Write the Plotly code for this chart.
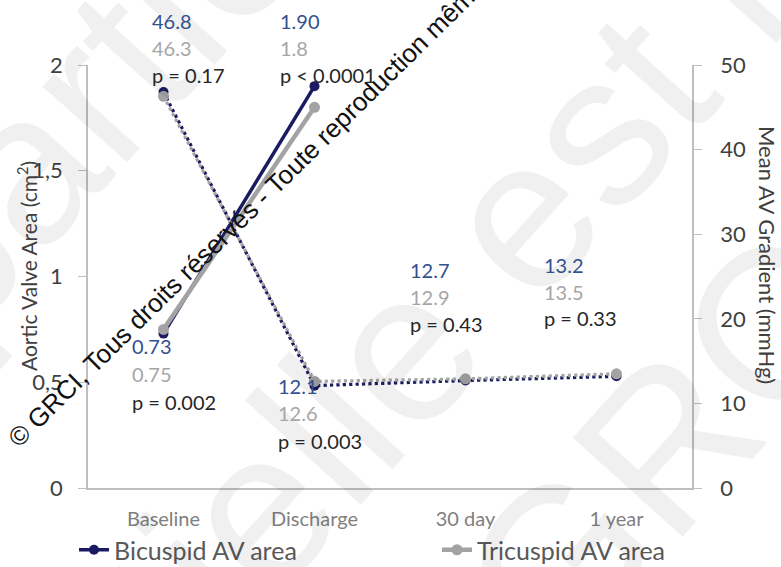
import plotly.graph_objects as go

# Follow-up time points
timepoints = ["Baseline", "Discharge", "30 day", "1 year"]

# Aortic valve area (cm²), measured at baseline and discharge
bicuspid_area = [0.73, 1.90]
tricuspid_area = [0.75, 1.8]
area_labels_bicuspid = ["0.73", "1.90"]
area_labels_tricuspid = ["0.75", "1.8"]

# Mean AV gradient (mmHg) at every time point
bicuspid_gradient = [46.8, 12.1, 12.7, 13.2]
tricuspid_gradient = [46.3, 12.6, 12.9, 13.5]

# p-values for bicuspid vs tricuspid comparisons
p_gradient = ["p = 0.17", "p = 0.003", "p = 0.43", "p = 0.33"]
p_area = ["p = 0.002", "p < 0.0001"]

NAVY = "#1b1b62"
GREY = "#a3a3a3"
LBL_NAVY = "#33508f"
LBL_GREY = "#a6a6a6"
LBL_DARK = "#262626"
AXIS_GREY = "#bfbfbf"
FONT = "Lato, 'Open Sans', sans-serif"
MARK_FONT = "Liberation Sans, Arial, sans-serif"

W, H = 781, 567
ML, MR, MT, MB = 88, 89, 65, 79
PLOT_W = W - ML - MR
PLOT_H = H - MT - MB


def px(pix):
    """Convert a horizontal pixel position to paper coordinates."""
    return (pix - ML) / PLOT_W


def py(pix):
    """Convert a vertical pixel position to paper coordinates."""
    return (H - MB - pix) / PLOT_H


fig = go.Figure()

# Gradient series (dotted, right axis)
fig.add_trace(go.Scatter(
    x=timepoints, y=bicuspid_gradient, yaxis="y2", mode="lines+markers",
    line=dict(color=NAVY, width=3.2, dash="dot"),
    marker=dict(color=NAVY, size=10), showlegend=False, name="Bicuspid gradient"))
fig.add_trace(go.Scatter(
    x=timepoints, y=tricuspid_gradient, yaxis="y2", mode="lines+markers",
    line=dict(color=GREY, width=3.2, dash="dot"),
    marker=dict(color=GREY, size=11), showlegend=False, name="Tricuspid gradient"))

# Valve area series (solid, left axis), each with its own legend box
fig.add_trace(go.Scatter(
    x=timepoints[:2], y=bicuspid_area, mode="lines+markers",
    line=dict(color=NAVY, width=3.5), marker=dict(color=NAVY, size=10),
    name="Bicuspid AV area", legend="legend"))
fig.add_trace(go.Scatter(
    x=timepoints[:2], y=tricuspid_area, mode="lines+markers",
    line=dict(color=GREY, width=4.5), marker=dict(color=GREY, size=11),
    name="Tricuspid AV area", legend="legend2"))

annotations = []

# Large, nearly transparent background watermark lines
for cx, cy, txt in [(579, 150, "partielle est interdite"),
                    (545, -414, "partielle est interdite"),
                    (610, 505, "© GRCI")]:
    annotations.append(dict(
        x=px(cx), xref="paper", y=py(cy), yref="paper", text=txt,
        textangle=-48, showarrow=False, xanchor="center", yanchor="middle",
        font=dict(family=MARK_FONT, size=215, color="rgba(0,0,0,0.06)")))


def label(cat, ypix, text, color, xshift):
    annotations.append(dict(
        x=cat, xref="x", y=py(ypix), yref="paper", text=text, showarrow=False,
        xanchor="left", yanchor="middle", xshift=xshift,
        font=dict(family=FONT, size=20, color=color)))


# Baseline: gradient values above, area values below
label(timepoints[0], 21, f"{bicuspid_gradient[0]}", LBL_NAVY, -14)
label(timepoints[0], 48, f"{tricuspid_gradient[0]}", LBL_GREY, -14)
label(timepoints[0], 75, p_gradient[0], LBL_DARK, -14)
label(timepoints[0], 346, area_labels_bicuspid[0], LBL_NAVY, -34)
label(timepoints[0], 374, area_labels_tricuspid[0], LBL_GREY, -34)
label(timepoints[0], 402, p_area[0], LBL_DARK, -34)

# Discharge: area values above, gradient values below
label(timepoints[1], 21, area_labels_bicuspid[1], LBL_NAVY, -37)
label(timepoints[1], 48, area_labels_tricuspid[1], LBL_GREY, -37)
label(timepoints[1], 75, p_area[1], LBL_DARK, -37)
label(timepoints[1], 386, f"{bicuspid_gradient[1]}", LBL_NAVY, -39)
label(timepoints[1], 413, f"{tricuspid_gradient[1]}", LBL_GREY, -39)
label(timepoints[1], 441, p_gradient[1], LBL_DARK, -39)

# 30 day and 1 year gradients
label(timepoints[2], 270, f"{bicuspid_gradient[2]}", LBL_NAVY, -58)
label(timepoints[2], 297, f"{tricuspid_gradient[2]}", LBL_GREY, -58)
label(timepoints[2], 324, p_gradient[2], LBL_DARK, -58)
label(timepoints[3], 265, f"{bicuspid_gradient[3]}", LBL_NAVY, -75)
label(timepoints[3], 292, f"{tricuspid_gradient[3]}", LBL_GREY, -75)
label(timepoints[3], 318, p_gradient[3], LBL_DARK, -75)

# Axis titles
annotations.append(dict(
    x=px(27), xref="paper", y=py(266), yref="paper",
    text="Aortic Valve Area (cm<sup>2</sup>)", textangle=-90, showarrow=False,
    xanchor="center", yanchor="middle",
    font=dict(family=FONT, size=21, color="#404040")))
annotations.append(dict(
    x=px(768), xref="paper", y=py(255), yref="paper",
    text="Mean AV Gradient (mmHg)", textangle=90, showarrow=False,
    xanchor="center", yanchor="middle",
    font=dict(family=FONT, size=22, color="#404040")))

# Copyright notice running diagonally across the chart
annotations.append(dict(
    x=px(246), xref="paper", y=py(213), yref="paper",
    text="© GRCI, Tous droits réservés - Toute reproduction même",
    textangle=-44.5, showarrow=False, xanchor="center", yanchor="middle",
    font=dict(family=MARK_FONT, size=26, color="#111111")))

legend_style = dict(
    orientation="h", xanchor="left", y=py(550), yanchor="middle",
    font=dict(family=FONT, size=25, color="#595959"),
    bgcolor="rgba(0,0,0,0)")

fig.update_layout(
    width=W, height=H,
    margin=dict(l=ML, r=MR, t=MT, b=MB, autoexpand=False),
    paper_bgcolor="white", plot_bgcolor="rgba(0,0,0,0)",
    font=dict(family=FONT),
    xaxis=dict(
        type="category", range=[-0.5, 3.5], showgrid=False, zeroline=False,
        showline=True, linecolor=AXIS_GREY, linewidth=1.5, ticks="",
        tickfont=dict(size=20, color="#7f7f7f"), ticklabelstandoff=12),
    yaxis=dict(
        range=[0, 2], tickvals=[0, 0.5, 1, 1.5, 2],
        ticktext=["0", "0,5", "1", "1,5", "2"],
        showgrid=False, zeroline=False, showline=True, linecolor=AXIS_GREY,
        linewidth=1.5, ticks="outside", ticklen=8, tickcolor=AXIS_GREY,
        tickwidth=1.2, tickfont=dict(size=22, color="#404040"),
        ticklabelstandoff=11),
    yaxis2=dict(
        range=[0, 50], tickvals=[0, 10, 20, 30, 40, 50], overlaying="y",
        side="right", showgrid=False, zeroline=False, showline=True,
        linecolor=AXIS_GREY, linewidth=1.5, ticks="outside", ticklen=8,
        tickcolor=AXIS_GREY, tickwidth=1.2,
        tickfont=dict(size=22, color="#404040"), ticklabelstandoff=14),
    legend=dict(x=px(74), **legend_style),
    legend2=dict(x=px(437), **legend_style),
    annotations=annotations,
)

fig.write_html("out.html")
